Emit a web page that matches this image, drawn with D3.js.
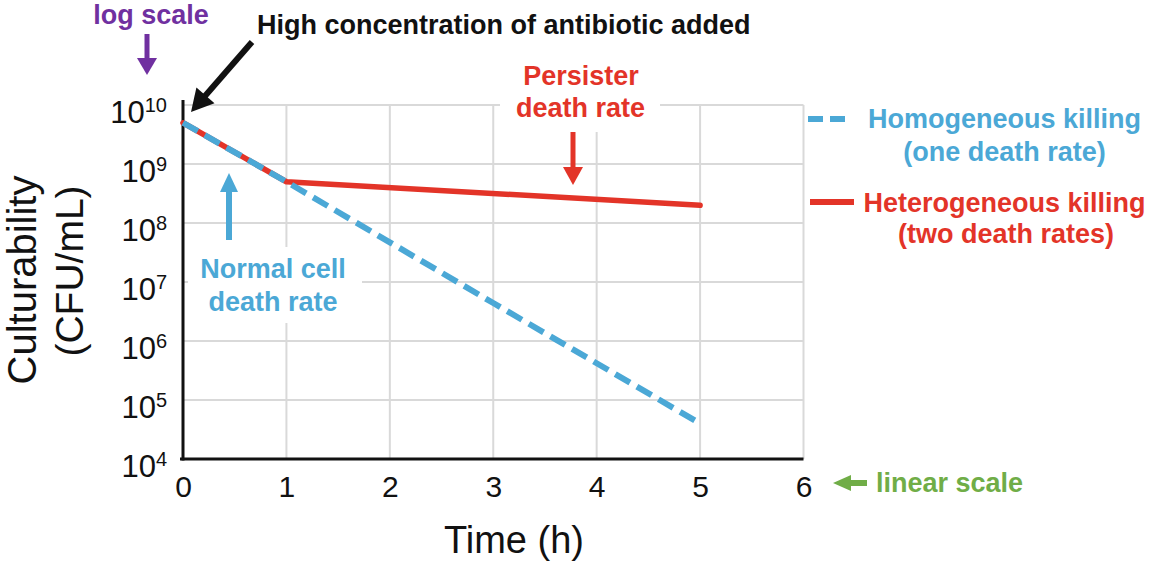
<!DOCTYPE html>
<html>
<head>
<meta charset="utf-8">
<script src="https://cdn.jsdelivr.net/npm/d3@7"></script>
<style>
  html, body { margin: 0; padding: 0; background: #fff; }
  svg { display: block; font-family: Arial, "Liberation Sans", sans-serif; }
</style>
</head>
<body>
<svg id="chart" width="1150" height="567"></svg>
<script>
// ---- data ----
const xTicks = [0, 1, 2, 3, 4, 5, 6];
const yTicks = [1e4, 1e5, 1e6, 1e7, 1e8, 1e9, 1e10];
const yTickExponents = ["4", "5", "6", "7", "8", "9", "10"];
const homogeneousTime = [0, 1, 2, 3, 4, 5];
const homogeneousCFU  = [5e9, 5e8, 4.7e7, 4.4e6, 4.2e5, 4e4];
const heterogeneousTime = [0, 1, 5];
const heterogeneousCFU  = [5e9, 5e8, 2e8];
const legendLabels = [["Homogeneous killing", "(one death rate)"], ["Heterogeneous killing", "(two death rates)"]];

// ---- setup ----
const BLUE = "#4BA8D6", RED = "#E33428", PURPLE = "#7030A0", GREEN = "#70AD47";
const svg = d3.select("#chart");
const x = d3.scaleLinear().domain([0, 6]).range([183, 803.5]);
const y = d3.scaleLog().domain([1e4, 1e10]).range([459, 105]);

// grid
const grid = svg.append("g").attr("stroke", "#D9D9D9").attr("stroke-width", 2);
grid.selectAll("line.h").data(yTicks.slice(1)).join("line")
  .attr("x1", x(0)).attr("x2", x(6)).attr("y1", d => y(d)).attr("y2", d => y(d));
grid.selectAll("line.v").data(xTicks.slice(1)).join("line")
  .attr("x1", d => x(d)).attr("x2", d => x(d)).attr("y1", y(1e10)).attr("y2", y(1e4));

// white boxes behind annotations
svg.append("rect").attr("x", 500).attr("y", 50).attr("width", 160).attr("height", 82).attr("fill", "#fff");
svg.append("rect").attr("x", 188).attr("y", 247).attr("width", 174).attr("height", 76).attr("fill", "#fff");

// axes (labels via d3 axes)
const xAxis = svg.append("g").attr("transform", `translate(0,${y(1e4)})`)
  .call(d3.axisBottom(x).tickValues(xTicks).tickSize(0).tickPadding(0).tickFormat(d3.format("d")));
xAxis.select(".domain").remove();
xAxis.selectAll("text").attr("font-size", 30).attr("fill", "#111").attr("dy", null).attr("y", 38)
  .attr("font-family", "Arial, 'Liberation Sans', sans-serif");

const yAxis = svg.append("g").attr("transform", `translate(167,0)`)
  .call(d3.axisLeft(y).tickValues(yTicks).tickSize(0).tickPadding(0).tickFormat(() => ""));
yAxis.select(".domain").remove();
yAxis.selectAll(".tick text").each(function(d, i) {
  const t = d3.select(this).attr("dy", null).attr("y", 17).attr("x", 0)
    .attr("font-size", 31).attr("fill", "#111").attr("text-anchor", "end")
    .attr("font-family", "Arial, 'Liberation Sans', sans-serif");
  t.text("");
  t.append("tspan").text("10");
  t.append("tspan").attr("font-size", 20).attr("dy", -11).text(yTickExponents[i]);
});

// axis lines
svg.append("line").attr("x1", x(0)).attr("x2", x(0)).attr("y1", 100).attr("y2", y(1e4) + 1.5)
  .attr("stroke", "#111").attr("stroke-width", 3);
svg.append("line").attr("x1", x(0) - 3).attr("x2", x(6)).attr("y1", y(1e4)).attr("y2", y(1e4))
  .attr("stroke", "#111").attr("stroke-width", 3);

// data lines
const line = d3.line().x(d => x(d[0])).y(d => y(d[1]));
svg.append("path").datum(d3.zip(heterogeneousTime, heterogeneousCFU)).attr("d", line)
  .attr("fill", "none").attr("stroke", RED).attr("stroke-width", 5.5).attr("stroke-linecap", "round").attr("stroke-linejoin", "round");
svg.append("path").datum(d3.zip(homogeneousTime, homogeneousCFU)).attr("d", line)
  .attr("fill", "none").attr("stroke", BLUE).attr("stroke-width", 6).attr("stroke-dasharray", "17,8");

// arrows
function arrow(x1, y1, x2, y2, color, sw, hl, hw) {
  const dx = x2 - x1, dy = y2 - y1, L = Math.hypot(dx, dy);
  const ux = dx / L, uy = dy / L, px = -uy, py = ux;
  const bx = x2 - ux * hl, by = y2 - uy * hl;
  svg.append("line").attr("x1", x1).attr("y1", y1).attr("x2", bx + ux).attr("y2", by + uy)
    .attr("stroke", color).attr("stroke-width", sw);
  svg.append("polygon").attr("fill", color)
    .attr("points", [[x2, y2], [bx + px * hw / 2, by + py * hw / 2], [bx - px * hw / 2, by - py * hw / 2]].map(p => p.join(",")).join(" "));
}
arrow(147, 34, 147, 75, PURPLE, 5, 17, 20);
arrow(252, 42, 191, 112, "#111", 6, 22, 24);
arrow(573, 132, 573, 185, RED, 5, 18, 20);
arrow(229, 240, 229, 173, BLUE, 6, 19, 18);
arrow(867, 483, 833, 483, GREEN, 6, 18, 16);

// annotation text
function label(txt, xx, yy, color, anchor) {
  svg.append("text").attr("x", xx).attr("y", yy).attr("fill", color).attr("font-size", 27)
    .attr("font-weight", "bold").attr("text-anchor", anchor || "start").text(txt);
}
label("log scale", 151, 24, PURPLE, "middle");
label("High concentration of antibiotic added", 257, 34, "#111");
label("Persister", 581, 85, RED, "middle");
label("death rate", 580.5, 117, RED, "middle");
label("Normal cell", 273, 278, BLUE, "middle");
label("death rate", 273, 311, BLUE, "middle");
label("linear scale", 876, 492, GREEN);

// legend
svg.append("line").attr("x1", 808).attr("x2", 848).attr("y1", 119).attr("y2", 119)
  .attr("stroke", BLUE).attr("stroke-width", 6).attr("stroke-dasharray", "15,7");
svg.append("line").attr("x1", 810).attr("x2", 854).attr("y1", 202).attr("y2", 202)
  .attr("stroke", RED).attr("stroke-width", 6);
label(legendLabels[0][0], 1004.5, 128, BLUE, "middle");
label(legendLabels[0][1], 1004.5, 161, BLUE, "middle");
label(legendLabels[1][0], 1004.5, 212, RED, "middle");
label(legendLabels[1][1], 1006, 243, RED, "middle");

// axis titles
svg.append("text").attr("x", 514).attr("y", 553).attr("text-anchor", "middle")
  .attr("font-size", 38).attr("fill", "#111").text("Time (h)");
svg.append("text").attr("transform", "translate(36,280) rotate(-90)").attr("text-anchor", "middle")
  .attr("font-size", 40).attr("fill", "#111").text("Culturability");
svg.append("text").attr("transform", "translate(83,271) rotate(-90)").attr("text-anchor", "middle")
  .attr("font-size", 39).attr("fill", "#111").text("(CFU/mL)");
</script>
</body>
</html>
